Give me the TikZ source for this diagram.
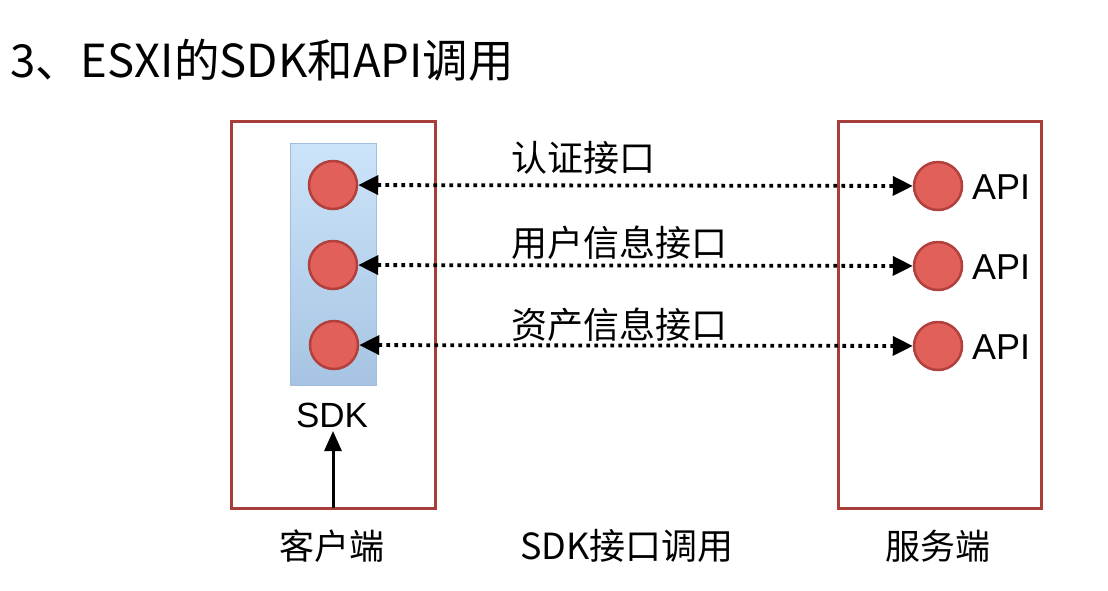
\documentclass[tikz,border=0pt]{standalone}
\usepackage{fontspec}
\setmainfont{Liberation Sans}
\newfontfamily\cjk{Noto Sans CJK SC}
\usetikzlibrary{arrows.meta}
\definecolor{boxred}{RGB}{168,62,58}
\definecolor{ballfill}{RGB}{226,96,90}
\definecolor{balledge}{RGB}{178,64,60}
\definecolor{sdktop}{RGB}{204,228,250}
\definecolor{sdkbot}{RGB}{166,196,226}
\definecolor{sdkedge}{RGB}{160,190,220}
\tikzset{
  frame/.style={draw=boxred, line width=3pt, inner sep=0pt},
  ball/.style={circle, fill=ballfill, draw=balledge, line width=2.5pt, minimum size=48pt, inner sep=0pt},
  dotlink/.style={line width=3.8pt, dash pattern=on 3.8pt off 4.2pt, {Triangle[length=20pt,width=19pt]}-{Triangle[length=20pt,width=19pt]}},
  lbl/.style={font=\cjk\fontsize{36}{42}\selectfont, inner sep=0pt},
  apil/.style={font=\fontsize{36}{40}\selectfont, inner sep=0pt, anchor=west},
}
\begin{document}
\begin{tikzpicture}[x=1pt,y=-1pt]
\useasboundingbox (0,0) rectangle (1108,590);
\fill[white] (0,0) rectangle (1108,590);
% title
\node[anchor=west, inner sep=0pt, font=\cjk\fontsize{45.5}{52}\selectfont] (title) at (10,60) {3、ESXI的SDK和API调用};
% boxes
\node[frame, minimum width=204pt, minimum height=387pt] (lbox) at (333,314.5) {};
\node[frame, minimum width=203pt, minimum height=387pt] (rbox) at (939.5,314.5) {};
% SDK rect
\node[draw=sdkedge, line width=0.8pt, top color=sdktop, bottom color=sdkbot, minimum width=86pt, minimum height=242pt, inner sep=0pt] (sdkbox) at (333,264) {};
% balls
\node[ball] (L1) at (333,185) {};
\node[ball] (L2) at (333,265) {};
\node[ball] (L3) at (334,345) {};
\node[ball] (R1) at (938,186) {};
\node[ball] (R2) at (938,266) {};
\node[ball] (R3) at (938,346) {};
% API labels
\node[apil] (a1) at (972,187) {API};
\node[apil] (a2) at (972,267) {API};
\node[apil] (a3) at (972,347) {API};
% links
\draw[dotlink] (L1) -- (R1);
\draw[dotlink] (L2) -- (R2);
\draw[dotlink] (L3) -- (R3);
% link labels
\node[lbl, anchor=west] (t1) at (511,158) {认证接口};
\node[lbl, anchor=west] (t2) at (511,243) {用户信息接口};
\node[lbl, anchor=west] (t3) at (511,325) {资产信息接口};
% SDK text and arrow
\node[font=\fontsize{35}{40}\selectfont, inner sep=0pt] (sdk) at (332,415) {SDK};
\coordinate (lbot) at (333,508);
\coordinate (sdkin) at (333,431);
\draw[line width=3pt, -{Triangle[length=20pt,width=17pt]}] (lbot) -- (sdkin);
% bottom labels
\node[font=\cjk\fontsize{35}{40}\selectfont, inner sep=0pt] (client) at (332,546) {客户端};
\node[font=\cjk\fontsize{36}{42}\selectfont, inner sep=0pt] (call) at (627,546) {SDK接口调用};
\node[font=\cjk\fontsize{35}{40}\selectfont, inner sep=0pt] (server) at (938,546) {服务端};
\end{tikzpicture}
\end{document}
